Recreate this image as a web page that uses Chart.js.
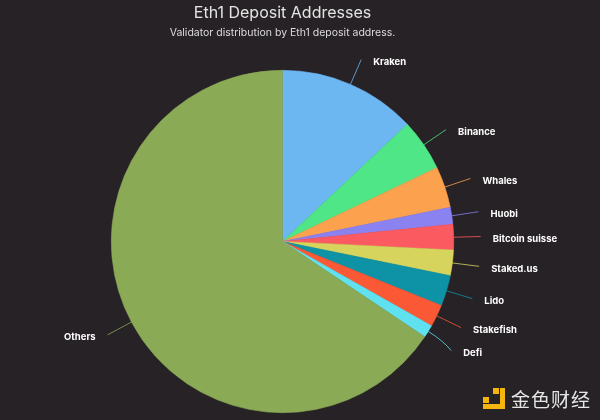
<!DOCTYPE html>
<html>
<head>
<meta charset="utf-8">
<script src="https://cdn.jsdelivr.net/npm/chart.js@4/dist/chart.umd.min.js"></script>
<style>
  html, body { margin: 0; padding: 0; background: #272225; }
  #wrap { position: relative; width: 600px; height: 420px; }
  #mark { position: absolute; left: 483px; top: 385px; display: flex; align-items: center; }
  #logo { position: relative; width: 22px; height: 21px; margin-right: 6px; }
  #logo span { position: absolute; background: #f5b50f; }
  #mark .txt { font-family: "Noto Sans CJK SC", sans-serif; font-size: 19px; color: #e6e6e6; letter-spacing: 1px; }
</style>
</head>
<body>
<div id="wrap">
  <canvas id="chart" width="600" height="420"></canvas>
  <div id="mark">
    <div id="logo">
      <span style="left:0;top:9px;width:6px;height:6px"></span>
      <span style="left:10px;top:0;width:6px;height:6px"></span>
      <span style="left:17px;top:0;width:5px;height:21px"></span>
      <span style="left:0;top:16px;width:22px;height:5px"></span>
    </div>
    <span class="txt">金色财经</span>
  </div>
</div>
<script>
const labels = ['Kraken', 'Binance', 'Whales', 'Huobi', 'Bitcoin suisse', 'Staked.us', 'Lido', 'Stakefish', 'Defi', 'Others'];
const shares = [13.0, 4.9, 3.9, 1.6, 2.4, 2.4, 2.9, 2.1, 1.2, 65.6];
const colors = ['#6cb6f2', '#4fe687', '#fca24f', '#8b82f2', '#fb5a61', '#d6d45c', '#0e93a6', '#fb5836', '#5fe1ef', '#8aaa56'];

// outside labels with leader lines, placed from each arc's own geometry
const outsideLabels = {
  id: 'outsideLabels',
  afterDatasetsDraw(chart) {
    const ctx = chart.ctx;
    const meta = chart.getDatasetMeta(0);
    const items = meta.data.map((arc, i) => {
      const { x, y, startAngle, endAngle, outerRadius } = arc.getProps(['x', 'y', 'startAngle', 'endAngle', 'outerRadius'], true);
      const mid = (startAngle + endAngle) / 2;
      const cos = Math.cos(mid), sin = Math.sin(mid);
      return {
        i, right: cos >= 0,
        x0: x + cos * outerRadius, y0: y + sin * outerRadius,
        cx: x + cos * (outerRadius + 18), cy: y + sin * (outerRadius + 18),
        x1: x + cos * (outerRadius + 27), y1: y + sin * (outerRadius + 27)
      };
    });
    // push crowded labels apart on each side
    [true, false].forEach(side => {
      const list = items.filter(it => it.right === side).sort((a, b) => a.y1 - b.y1);
      for (let k = 1; k < list.length; k++) {
        if (list[k].y1 - list[k - 1].y1 < 23) list[k].y1 = list[k - 1].y1 + 23;
      }
    });

    ctx.save();
    ctx.font = 'bold 9.5px Inter, sans-serif';
    ctx.textBaseline = 'middle';
    items.forEach(it => {
      ctx.strokeStyle = colors[it.i];
      ctx.globalAlpha = 0.8;
      ctx.lineWidth = 1;
      ctx.beginPath();
      ctx.moveTo(it.x0, it.y0);
      ctx.quadraticCurveTo(it.cx, it.cy, it.x1, it.y1);
      ctx.stroke();

      ctx.globalAlpha = 1;
      ctx.fillStyle = '#ffffff';
      ctx.textAlign = it.right ? 'left' : 'right';
      ctx.fillText(labels[it.i], it.x1 + (it.right ? 12 : -12), it.y1 + 2.5);
    });
    ctx.restore();
  }
};

new Chart(document.getElementById('chart'), {
  type: 'pie',
  data: {
    labels: labels,
    datasets: [{
      data: shares,
      backgroundColor: colors,
      borderColor: colors,
      borderWidth: 0.6
    }]
  },
  options: {
    responsive: false,
    animation: false,
    layout: { padding: { top: 0, bottom: 7, left: 111, right: 146 } },
    plugins: {
      legend: { display: false },
      tooltip: { enabled: false },
      title: {
        display: true,
        text: 'Eth1 Deposit Addresses',
        color: '#e4e4e4',
        font: { family: 'Inter', size: 16, weight: 'normal' },
        padding: { top: 4, bottom: 0 }
      },
      subtitle: {
        display: true,
        text: 'Validator distribution by Eth1 deposit address.',
        color: '#dcdcdc',
        font: { family: 'Inter', size: 10.5, weight: 'normal' },
        padding: { top: 3.5, bottom: 30.7 }
      }
    }
  },
  plugins: [outsideLabels]
});
</script>
</body>
</html>
